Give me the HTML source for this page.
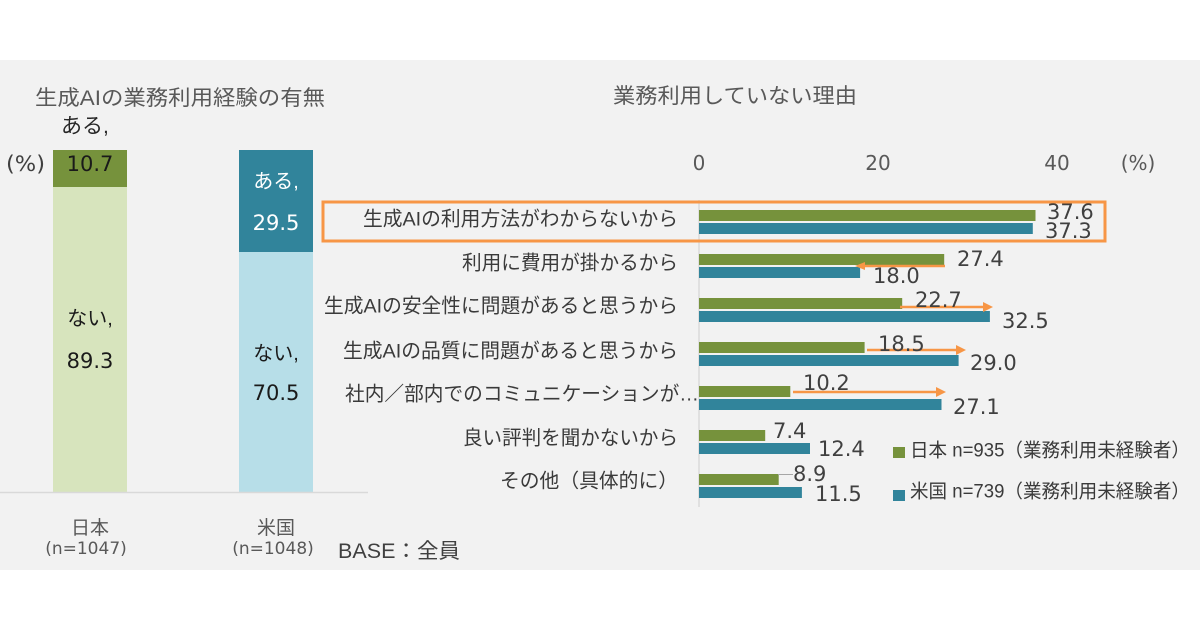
<!DOCTYPE html>
<html><head><meta charset="utf-8">
<style>
html,body{margin:0;padding:0;background:#fff;}
svg{display:block;}
.jp{font-family:"Liberation Sans","Noto Sans CJK JP",sans-serif;}
.num{font-family:"DejaVu Sans","Liberation Sans",sans-serif;}
</style></head>
<body>
<svg width="1200" height="630" viewBox="0 0 1200 630" xmlns="http://www.w3.org/2000/svg">
<rect x="0" y="0" width="1200" height="630" fill="#ffffff"/>
<rect x="0" y="60" width="1200" height="510" fill="#f2f2f2"/>

<!-- LEFT CHART -->
<text class="jp" x="35" y="105" font-size="21" fill="#595959" textLength="290" lengthAdjust="spacingAndGlyphs">生成AIの業務利用経験の有無</text>
<text class="jp" x="61" y="133" font-size="21" fill="#262626">ある,</text>
<text class="num" x="6" y="171" font-size="21" fill="#404040" textLength="39" lengthAdjust="spacingAndGlyphs">(%)</text>

<rect x="53" y="150" width="74" height="37" fill="#76923c"/>
<rect x="53" y="187" width="74" height="305" fill="#d7e4bd"/>
<rect x="239" y="150" width="74" height="102" fill="#31849b"/>
<rect x="239" y="252" width="74" height="240" fill="#b7dee8"/>
<line x1="0" y1="492.5" x2="368" y2="492.5" stroke="#d9d9d9" stroke-width="1.5"/>

<text class="num" x="90" y="171" font-size="21" fill="#1a1a1a" text-anchor="middle">10.7</text>
<text class="jp" x="90" y="325" font-size="20" fill="#1a1a1a" text-anchor="middle">ない,</text>
<text class="num" x="90" y="368" font-size="21" fill="#1a1a1a" text-anchor="middle">89.3</text>

<text class="jp" x="276" y="188" font-size="20" fill="#ffffff" text-anchor="middle">ある,</text>
<text class="num" x="276" y="230" font-size="21" fill="#ffffff" text-anchor="middle">29.5</text>
<text class="jp" x="276" y="360" font-size="20" fill="#1a1a1a" text-anchor="middle">ない,</text>
<text class="num" x="276" y="400" font-size="21" fill="#1a1a1a" text-anchor="middle">70.5</text>

<text class="jp" x="90" y="534" font-size="19" fill="#595959" text-anchor="middle">日本</text>
<text class="num" x="86" y="554" font-size="17" fill="#595959" text-anchor="middle">(n=1047)</text>
<text class="jp" x="276" y="534" font-size="19" fill="#595959" text-anchor="middle">米国</text>
<text class="num" x="273" y="554" font-size="17" fill="#595959" text-anchor="middle">(n=1048)</text>
<text class="jp" x="338" y="558" font-size="21" fill="#404040" textLength="122" lengthAdjust="spacingAndGlyphs">BASE：全員</text>

<!-- RIGHT CHART -->
<text class="jp" x="613" y="103" font-size="21" fill="#595959" textLength="244" lengthAdjust="spacingAndGlyphs">業務利用していない理由</text>

<text class="num" x="699" y="170" font-size="20" fill="#595959" text-anchor="middle">0</text>
<text class="num" x="878" y="170" font-size="20" fill="#595959" text-anchor="middle">20</text>
<text class="num" x="1057" y="170" font-size="20" fill="#595959" text-anchor="middle">40</text>
<text class="num" x="1138" y="170" font-size="20" fill="#595959" text-anchor="middle">(%)</text>

<line x1="699" y1="200" x2="699" y2="507" stroke="#d9d9d9" stroke-width="1.5"/>

<!-- bars: scale 8.95 px/unit -->
<rect x="699" y="210" width="336.5" height="11" fill="#76923c"/>
<rect x="699" y="223" width="333.8" height="11" fill="#31849b"/>
<rect x="699" y="254" width="245.2" height="11" fill="#76923c"/>
<rect x="699" y="267" width="161.1" height="11" fill="#31849b"/>
<rect x="699" y="298" width="203.2" height="11" fill="#76923c"/>
<rect x="699" y="311" width="290.9" height="11" fill="#31849b"/>
<rect x="699" y="342" width="165.6" height="11" fill="#76923c"/>
<rect x="699" y="355" width="259.6" height="11" fill="#31849b"/>
<rect x="699" y="386" width="91.3" height="11" fill="#76923c"/>
<rect x="699" y="399" width="242.5" height="11" fill="#31849b"/>
<rect x="699" y="430" width="66.2" height="11" fill="#76923c"/>
<rect x="699" y="443" width="111.0" height="11" fill="#31849b"/>
<rect x="699" y="474" width="79.7" height="11" fill="#76923c"/>
<rect x="699" y="487" width="102.9" height="11" fill="#31849b"/>

<!-- orange highlight box -->
<rect x="323" y="202" width="782" height="39" fill="none" stroke="#f79646" stroke-width="3"/>

<!-- orange arrows -->
<g stroke="#f79646" stroke-width="2.5" fill="#f79646">
<line x1="945" y1="266" x2="864" y2="266"/>
<polygon points="855,266 865,262 865,270" stroke="none"/>
<line x1="900" y1="307" x2="984" y2="307"/>
<polygon points="993,307 983,302 983,312" stroke="none"/>
<line x1="867" y1="350" x2="957" y2="350"/>
<polygon points="966,350 956,345 956,355" stroke="none"/>
<line x1="793" y1="392" x2="937" y2="392"/>
<polygon points="946,392 936,387 936,397" stroke="none"/>
</g>
<line x1="778" y1="474.5" x2="793" y2="474.5" stroke="#a6a6a6" stroke-width="1"/>

<!-- value labels -->
<g class="num" font-size="21" fill="#404040">
<text x="1047" y="219">37.6</text>
<text x="1045" y="238">37.3</text>
<text x="957" y="266">27.4</text>
<text x="873" y="283">18.0</text>
<text x="915" y="307">22.7</text>
<text x="1002" y="328">32.5</text>
<text x="878" y="351">18.5</text>
<text x="970" y="370">29.0</text>
<text x="803" y="390">10.2</text>
<text x="953" y="414">27.1</text>
<text x="773" y="438">7.4</text>
<text x="818" y="456">12.4</text>
<text x="793" y="481">8.9</text>
<text x="815" y="501">11.5</text>
</g>

<!-- category labels -->
<g class="jp" font-size="19.7" fill="#3a3a3a">
<text x="363" y="225.5" textLength="315" lengthAdjust="spacingAndGlyphs">生成AIの利用方法がわからないから</text>
<text x="462" y="269.5" textLength="216" lengthAdjust="spacingAndGlyphs">利用に費用が掛かるから</text>
<text x="324" y="312.5" textLength="354" lengthAdjust="spacingAndGlyphs">生成AIの安全性に問題があると思うから</text>
<text x="343" y="357.5" textLength="335" lengthAdjust="spacingAndGlyphs">生成AIの品質に問題があると思うから</text>
<text x="345" y="400.5" textLength="354" lengthAdjust="spacingAndGlyphs">社内／部内でのコミュニケーションが…</text>
<text x="463" y="444.5" textLength="215" lengthAdjust="spacingAndGlyphs">良い評判を聞かないから</text>
<text x="500" y="487.5" textLength="178" lengthAdjust="spacingAndGlyphs">その他（具体的に）</text>
</g>

<!-- legend -->
<rect x="893" y="447" width="12" height="11" fill="#76923c"/>
<text class="jp" x="910" y="456.5" font-size="19" fill="#3a3a3a" textLength="280" lengthAdjust="spacingAndGlyphs">日本 n=935（業務利用未経験者）</text>
<rect x="893" y="490" width="12" height="11" fill="#31849b"/>
<text class="jp" x="910" y="497.5" font-size="19" fill="#3a3a3a" textLength="280" lengthAdjust="spacingAndGlyphs">米国 n=739（業務利用未経験者）</text>
</svg>
</body></html>
